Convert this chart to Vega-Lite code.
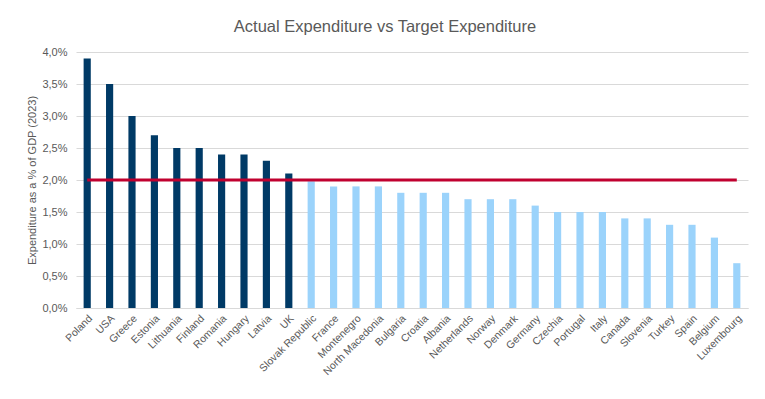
{
  "$schema": "https://vega.github.io/schema/vega-lite/v6.json",
  "autosize": "none",
  "width": 672,
  "height": 256,
  "padding": {"left": 76, "top": 52, "right": 17, "bottom": 91},
  "background": "white",
  "title": {"text": "Actual Expenditure vs Target Expenditure", "font": "Liberation Sans", "fontSize": 16.5, "fontWeight": "normal", "color": "#595959", "offset": 11, "dx": -27},
  "data": {"values": [
    {"country": "Poland", "value": 3.9, "group": "above", "target": 2.0},
    {"country": "USA", "value": 3.5, "group": "above", "target": 2.0},
    {"country": "Greece", "value": 3.0, "group": "above", "target": 2.0},
    {"country": "Estonia", "value": 2.7, "group": "above", "target": 2.0},
    {"country": "Lithuania", "value": 2.5, "group": "above", "target": 2.0},
    {"country": "Finland", "value": 2.5, "group": "above", "target": 2.0},
    {"country": "Romania", "value": 2.4, "group": "above", "target": 2.0},
    {"country": "Hungary", "value": 2.4, "group": "above", "target": 2.0},
    {"country": "Latvia", "value": 2.3, "group": "above", "target": 2.0},
    {"country": "UK", "value": 2.1, "group": "above", "target": 2.0},
    {"country": "Slovak Republic", "value": 1.98, "group": "below", "target": 2.0},
    {"country": "France", "value": 1.9, "group": "below", "target": 2.0},
    {"country": "Montenegro", "value": 1.9, "group": "below", "target": 2.0},
    {"country": "North Macedonia", "value": 1.9, "group": "below", "target": 2.0},
    {"country": "Bulgaria", "value": 1.8, "group": "below", "target": 2.0},
    {"country": "Croatia", "value": 1.8, "group": "below", "target": 2.0},
    {"country": "Albania", "value": 1.8, "group": "below", "target": 2.0},
    {"country": "Netherlands", "value": 1.7, "group": "below", "target": 2.0},
    {"country": "Norway", "value": 1.7, "group": "below", "target": 2.0},
    {"country": "Denmark", "value": 1.7, "group": "below", "target": 2.0},
    {"country": "Germany", "value": 1.6, "group": "below", "target": 2.0},
    {"country": "Czechia", "value": 1.5, "group": "below", "target": 2.0},
    {"country": "Portugal", "value": 1.5, "group": "below", "target": 2.0},
    {"country": "Italy", "value": 1.5, "group": "below", "target": 2.0},
    {"country": "Canada", "value": 1.4, "group": "below", "target": 2.0},
    {"country": "Slovenia", "value": 1.4, "group": "below", "target": 2.0},
    {"country": "Turkey", "value": 1.3, "group": "below", "target": 2.0},
    {"country": "Spain", "value": 1.3, "group": "below", "target": 2.0},
    {"country": "Belgium", "value": 1.1, "group": "below", "target": 2.0},
    {"country": "Luxembourg", "value": 0.7, "group": "below", "target": 2.0}
  ]},
  "encoding": {
    "x": {"field": "country", "type": "nominal", "sort": null,
      "scale": {"paddingInner": 0.68, "paddingOuter": 0.34},
      "axis": {"title": null, "labelAngle": -45, "labelFont": "Liberation Sans", "labelFontSize": 10.5, "labelColor": "#595959", "ticks": false, "domainColor": "#D9D9D9", "labelPadding": 5}}
  },
  "layer": [
    {
      "mark": {"type": "bar"},
      "encoding": {
        "y": {"field": "value", "type": "quantitative",
          "scale": {"domain": [0, 4], "nice": false},
          "axis": {"title": "Expenditure as a % of GDP (2023)", "titleFont": "Liberation Sans", "titleFontSize": 11, "titleFontWeight": "normal", "titleColor": "#595959", "titlePadding": 4,
            "values": [0, 0.5, 1, 1.5, 2, 2.5, 3, 3.5, 4],
            "labelExpr": "replace(format(datum.value, '.1f'), '.', ',') + '%'",
            "labelFont": "Liberation Sans", "labelFontSize": 11, "labelColor": "#595959", "labelOverlap": false,
            "ticks": false, "domain": false, "gridColor": "#D9D9D9", "labelPadding": 9}},
        "color": {"field": "group", "type": "nominal", "legend": null,
          "scale": {"domain": ["above", "below"], "range": ["#003A66", "#9BD3FB"]}}
      }
    },
    {
      "mark": {"type": "line", "color": "#C0002F", "strokeWidth": 3},
      "encoding": {
        "y": {"field": "target", "type": "quantitative",
          "scale": {"domain": [0, 4], "nice": false},
          "axis": {"title": "Expenditure as a % of GDP (2023)", "titleFont": "Liberation Sans", "titleFontSize": 11, "titleFontWeight": "normal", "titleColor": "#595959", "titlePadding": 4,
            "values": [0, 0.5, 1, 1.5, 2, 2.5, 3, 3.5, 4],
            "labelExpr": "replace(format(datum.value, '.1f'), '.', ',') + '%'",
            "labelFont": "Liberation Sans", "labelFontSize": 11, "labelColor": "#595959", "labelOverlap": false,
            "ticks": false, "domain": false, "gridColor": "#D9D9D9", "labelPadding": 9}}
      }
    }
  ],
  "config": {"view": {"stroke": null}}
}
